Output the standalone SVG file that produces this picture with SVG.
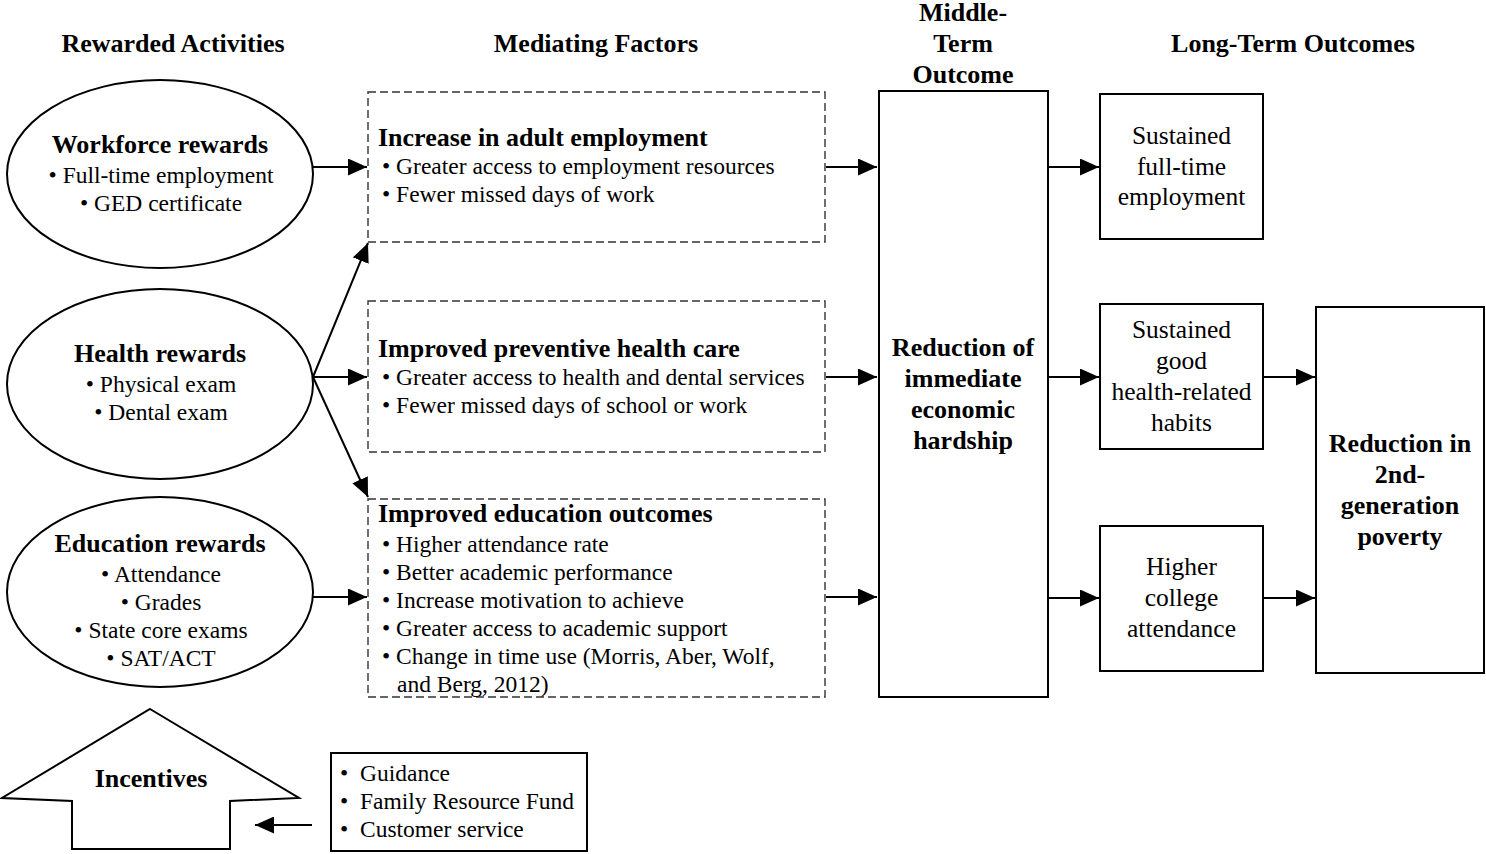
<svg xmlns="http://www.w3.org/2000/svg" width="1486" height="854" viewBox="0 0 1486 854">
<style>
text{font-family:"Liberation Serif","Times New Roman",serif;fill:#000}
.h{font-size:26px;font-weight:bold;text-anchor:middle}
.b{font-size:26px;font-weight:bold}
.bc{font-size:26px;font-weight:bold;text-anchor:middle}
.n{font-size:23.5px}
.nc{font-size:23.5px;text-anchor:middle}
.r{font-size:25.5px;text-anchor:middle}
.solid{fill:#fff;stroke:#000;stroke-width:2}
.dash{fill:#fff;stroke:#333;stroke-width:1.4;stroke-dasharray:8 4}
.conn{stroke:#000;stroke-width:2;fill:none}
</style>
<defs>
<marker id="ah" viewBox="0 0 19 17" refX="19" refY="8.5" markerWidth="19" markerHeight="17" markerUnits="userSpaceOnUse" orient="auto">
<path d="M0,0 L19,8.5 L0,17 Z" fill="#000"/>
</marker>
</defs>
<rect width="1486" height="854" fill="#fff"/>
<g id="headers">
<text class="h" x="173" y="52">Rewarded Activities</text>
<text class="h" x="596" y="52">Mediating Factors</text>
<text class="h" x="963" y="21">Middle-</text>
<text class="h" x="963" y="52">Term</text>
<text class="h" x="963" y="83">Outcome</text>
<text class="h" x="1293" y="52">Long-Term Outcomes</text>
</g>
<g id="connectors">
<line class="conn" x1="313" y1="167" x2="367" y2="167" marker-end="url(#ah)"/>
<line class="conn" x1="313" y1="377" x2="368" y2="243" marker-end="url(#ah)"/>
<line class="conn" x1="313" y1="377" x2="367" y2="377" marker-end="url(#ah)"/>
<line class="conn" x1="313" y1="377" x2="368" y2="497" marker-end="url(#ah)"/>
<line class="conn" x1="313" y1="597" x2="367" y2="597" marker-end="url(#ah)"/>
<line class="conn" x1="826" y1="167" x2="877" y2="167" marker-end="url(#ah)"/>
<line class="conn" x1="826" y1="377" x2="877" y2="377" marker-end="url(#ah)"/>
<line class="conn" x1="826" y1="597" x2="877" y2="597" marker-end="url(#ah)"/>
<line class="conn" x1="1049" y1="167" x2="1099" y2="167" marker-end="url(#ah)"/>
<line class="conn" x1="1049" y1="377" x2="1099" y2="377" marker-end="url(#ah)"/>
<line class="conn" x1="1049" y1="598" x2="1099" y2="598" marker-end="url(#ah)"/>
<line class="conn" x1="1263" y1="377" x2="1315" y2="377" marker-end="url(#ah)"/>
<line class="conn" x1="1263" y1="598" x2="1315" y2="598" marker-end="url(#ah)"/>
<line class="conn" x1="312" y1="825" x2="255" y2="825" marker-end="url(#ah)"/>
</g>
<g id="workforce">
<ellipse class="solid" cx="160" cy="174" rx="153" ry="94"/>
<text class="bc" x="160" y="153">Workforce rewards</text>
<text class="nc" x="161" y="183">• Full-time employment</text>
<text class="nc" x="161" y="211">• GED certificate</text>
</g>
<g id="health">
<ellipse class="solid" cx="160" cy="384" rx="153" ry="95"/>
<text class="bc" x="160" y="362">Health rewards</text>
<text class="nc" x="161" y="392">• Physical exam</text>
<text class="nc" x="161" y="420">• Dental exam</text>
</g>
<g id="education">
<ellipse class="solid" cx="160" cy="592" rx="153" ry="95"/>
<text class="bc" x="160" y="552">Education rewards</text>
<text class="nc" x="161" y="582">• Attendance</text>
<text class="nc" x="161" y="610">• Grades</text>
<text class="nc" x="161" y="638">• State core exams</text>
<text class="nc" x="161" y="666">• SAT/ACT</text>
</g>
<g id="employment">
<rect class="dash" x="368" y="92" width="457" height="150"/>
<text class="b" x="378" y="146">Increase in adult employment</text>
<text class="n" x="382" y="174">• Greater access to employment resources</text>
<text class="n" x="382" y="202">• Fewer missed days of work</text>
</g>
<g id="healthcare">
<rect class="dash" x="368" y="301" width="457" height="151"/>
<text class="b" x="378" y="357">Improved preventive health care</text>
<text class="n" x="382" y="385">• Greater access to health and dental services</text>
<text class="n" x="382" y="413">• Fewer missed days of school or work</text>
</g>
<g id="edoutcomes">
<rect class="dash" x="368" y="499" width="457" height="198"/>
<text class="b" x="378" y="522">Improved education outcomes</text>
<text class="n" x="382" y="552">• Higher attendance rate</text>
<text class="n" x="382" y="580">• Better academic performance</text>
<text class="n" x="382" y="608">• Increase motivation to achieve</text>
<text class="n" x="382" y="636">• Greater access to academic support</text>
<text class="n" x="382" y="664">• Change in time use (Morris, Aber, Wolf,</text>
<text class="n" x="397" y="692">and Berg, 2012)</text>
</g>
<g id="middle">
<rect class="solid" x="879" y="91" width="169" height="606"/>
<text class="bc" x="963" y="356">Reduction of</text>
<text class="bc" x="963" y="387">immediate</text>
<text class="bc" x="963" y="418">economic</text>
<text class="bc" x="963" y="449">hardship</text>
</g>
<g id="sustained-employment">
<rect class="solid" x="1100" y="94" width="163" height="145"/>
<text class="r" x="1181.5" y="144">Sustained</text>
<text class="r" x="1181.5" y="175">full-time</text>
<text class="r" x="1181.5" y="205">employment</text>
</g>
<g id="health-habits">
<rect class="solid" x="1100" y="304" width="163" height="145"/>
<text class="r" x="1181.5" y="338">Sustained</text>
<text class="r" x="1181.5" y="369">good</text>
<text class="r" x="1181.5" y="400">health-related</text>
<text class="r" x="1181.5" y="431">habits</text>
</g>
<g id="college">
<rect class="solid" x="1100" y="526" width="163" height="145"/>
<text class="r" x="1181.5" y="575">Higher</text>
<text class="r" x="1181.5" y="606">college</text>
<text class="r" x="1181.5" y="637">attendance</text>
</g>
<g id="poverty">
<rect class="solid" x="1316" y="307" width="168" height="366"/>
<text class="bc" x="1400" y="452">Reduction in</text>
<text class="bc" x="1400" y="483">2nd-</text>
<text class="bc" x="1400" y="514">generation</text>
<text class="bc" x="1400" y="545">poverty</text>
</g>
<g id="incentives">
<polygon class="solid" stroke-width="1.6" points="150,709 299,798 230,801 230,849 72,849 72,801 2,798"/>
<text class="bc" x="151" y="787">Incentives</text>
</g>
<g id="supports">
<rect class="solid" x="331" y="753" width="256" height="98"/>
<text class="n" x="340" y="781">•&#160;&#160;Guidance</text>
<text class="n" x="340" y="809">•&#160;&#160;Family Resource Fund</text>
<text class="n" x="340" y="837">•&#160;&#160;Customer service</text>
</g>
</svg>
